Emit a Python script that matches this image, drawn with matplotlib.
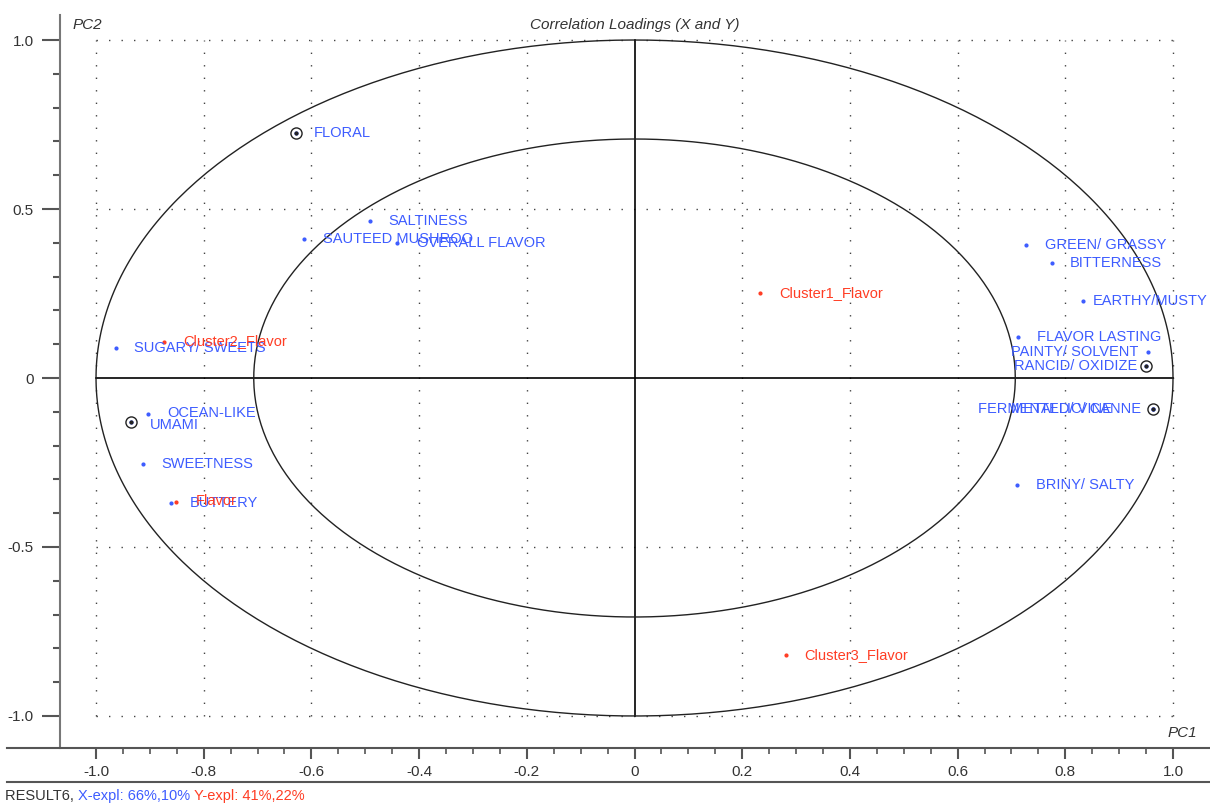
import numpy as np
import matplotlib
matplotlib.use("Agg")
import matplotlib.pyplot as plt
from matplotlib.lines import Line2D

plt.rcParams['font.family'] = ['Liberation Sans Narrow', 'Liberation Sans', 'DejaVu Sans']

# X loadings (sensory attributes)
x_names = ["FLORAL", "SALTINESS", "SAUTEED MUSHROO", "OVERALL FLAVOR",
           "GREEN/ GRASSY", "BITTERNESS", "EARTHY/MUSTY", "FLAVOR LASTING",
           "PAINTY/ SOLVENT", "RANCID/ OXIDIZE", "FERMENTED/ VINE",
           "METALLIC/ CANNE", "BRINY/ SALTY", "SUGARY/ SWEETS",
           "OCEAN-LIKE", "UMAMI", "SWEETNESS", "BUTTERY"]
x_pc1 = [-0.629, -0.491, -0.614, -0.441, 0.727, 0.775, 0.833, 0.712,
         0.954, 0.949, 0.963, 0.963, 0.710, -0.963, -0.903, -0.935, -0.913, -0.861]
x_pc2 = [0.725, 0.464, 0.411, 0.399, 0.393, 0.340, 0.228, 0.121,
         0.077, 0.036, -0.092, -0.092, -0.317, 0.089, -0.107, -0.130, -0.254, -0.370]
x_circled = ["FLORAL", "RANCID/ OXIDIZE", "METALLIC/ CANNE", "UMAMI"]

# Y loadings (flavor clusters)
y_names = ["Cluster1_Flavor", "Cluster2_Flavor", "Cluster3_Flavor", "Flavor"]
y_pc1 = [0.233, -0.874, 0.281, -0.851]
y_pc2 = [0.252, 0.107, -0.820, -0.367]

# label offsets in pixels
x_offsets = [(18, 0), (18, 0), (19, 0), (20, 0), (19, 0), (18, 0), (10, 0), (19, 0),
             (-137, 0), (-132, 0), (-175, 0), (-142, 0), (19, 0), (18, 0),
             (19, 1), (19, -3), (18, 0), (19, 0)]
y_offsets = [(19, 0), (19, 1), (18, 0), (19, 1)]

blue = '#3d5cff'
red = '#ff3d24'
lab_fs = 10.5

fig = plt.figure(figsize=(12.1, 8.1), dpi=100)
ax = fig.add_axes([60 / 1210, 1 - 748 / 810, 1150 / 1210, 733 / 810])
ax.set_xlim(-1.0669, 1.0687)
ax.set_ylim(-1.0947, 1.074)

for s in ['top', 'right', 'bottom']:
    ax.spines[s].set_visible(False)
ax.spines['left'].set_color('#777777')
ax.spines['left'].set_linewidth(1.5)

# dotted grid
dot = (0, (1, 8))
for gx in np.arange(-1.0, 1.01, 0.2):
    if abs(gx) < 1e-9:
        continue
    ax.plot([gx, gx], [-1, 1], color='#444444', lw=1, ls=dot)
for gy in [-1.0, -0.5, 0.5, 1.0]:
    ax.plot([-1, 1], [gy, gy], color='#444444', lw=1, ls=dot)

# cross lines
ax.plot([-1, 1], [0, 0], color='black', lw=1.2)
ax.plot([0, 0], [-1, 1], color='black', lw=1.2)

# 100% and 50% explained variance ellipses
t = np.linspace(0, 2 * np.pi, 400)
for r in [1.0, np.sqrt(0.5)]:
    ax.plot(r * np.cos(t), r * np.sin(t), color='#222222', lw=1)

# points
ax.plot(x_pc1, x_pc2, ls='none', marker='o', ms=2, color=blue)
ax.plot(y_pc1, y_pc2, ls='none', marker='o', ms=2, color=red)
for name, px, py in zip(x_names, x_pc1, x_pc2):
    if name in x_circled:
        ax.plot(px, py, ls='none', marker='o', ms=8, mfc='none', mec='#222222', mew=1)
        ax.plot(px, py, ls='none', marker='o', ms=2, color='#222222')

for name, px, py, off in zip(x_names, x_pc1, x_pc2, x_offsets):
    ax.annotate(name, (px, py), xytext=off, textcoords='offset pixels',
                ha='left', va='center', fontsize=lab_fs, color=blue)
for name, px, py, off in zip(y_names, y_pc1, y_pc2, y_offsets):
    ax.annotate(name, (px, py), xytext=off, textcoords='offset pixels',
                ha='left', va='center', fontsize=lab_fs, color=red)

# ticks
ax.set_yticks([-1.0, -0.5, 0, 0.5, 1.0])
ax.set_yticklabels(['-1.0', '-0.5', '0', '0.5', '1.0'])
ax.set_yticks(np.arange(-1.0, 1.01, 0.1), minor=True)
ax.tick_params(axis='y', which='major', length=13, width=1.5, color='#555555',
               labelsize=11, labelcolor='#333333', pad=6)
ax.tick_params(axis='y', which='minor', length=5, width=1.5, color='#555555')

ax.set_xticks(np.arange(-1.0, 1.01, 0.2))
ax.set_xticklabels(['-1.0', '-0.8', '-0.6', '-0.4', '-0.2', '0',
                    '0.2', '0.4', '0.6', '0.8', '1.0'])
ax.set_xticks(np.arange(-1.0, 1.01, 0.05), minor=True)
ax.tick_params(axis='x', which='major', length=8, width=1.5, color='#555555',
               labelsize=11, labelcolor='#333333', pad=4)
ax.tick_params(axis='x', which='minor', length=4, width=1.2, color='#555555')

# frame lines across the figure
fig.add_artist(Line2D([7 / 1210, 1], [1 - 748 / 810] * 2, color='#555555', lw=1.5))
fig.add_artist(Line2D([7 / 1210, 1], [1 - 782 / 810] * 2, color='#555555', lw=1.5))

ax.text(0, 1.044, 'Correlation Loadings (X and Y)', ha='center', va='center',
        fontsize=11, style='italic', color='#333333')
ax.text(-1.0445, 1.044, 'PC2', ha='left', va='center', fontsize=11,
        style='italic', color='#333333')
ax.text(0.989, -1.050, 'PC1', ha='left', va='center', fontsize=11,
        style='italic', color='#333333')

# footer
y_foot = 1 - 796 / 810
t1 = fig.text(5 / 1210, y_foot, 'RESULT6, ', fontsize=lab_fs, color='#333333', va='center')
fig.canvas.draw()
bb = t1.get_window_extent()
t2 = fig.text(bb.x1 / 1210, y_foot, 'X-expl: 66%,10% ', fontsize=lab_fs, color=blue, va='center')
fig.canvas.draw()
bb = t2.get_window_extent()
fig.text(bb.x1 / 1210, y_foot, 'Y-expl: 41%,22%', fontsize=lab_fs, color=red, va='center')

fig.savefig('out.png', dpi=100)
